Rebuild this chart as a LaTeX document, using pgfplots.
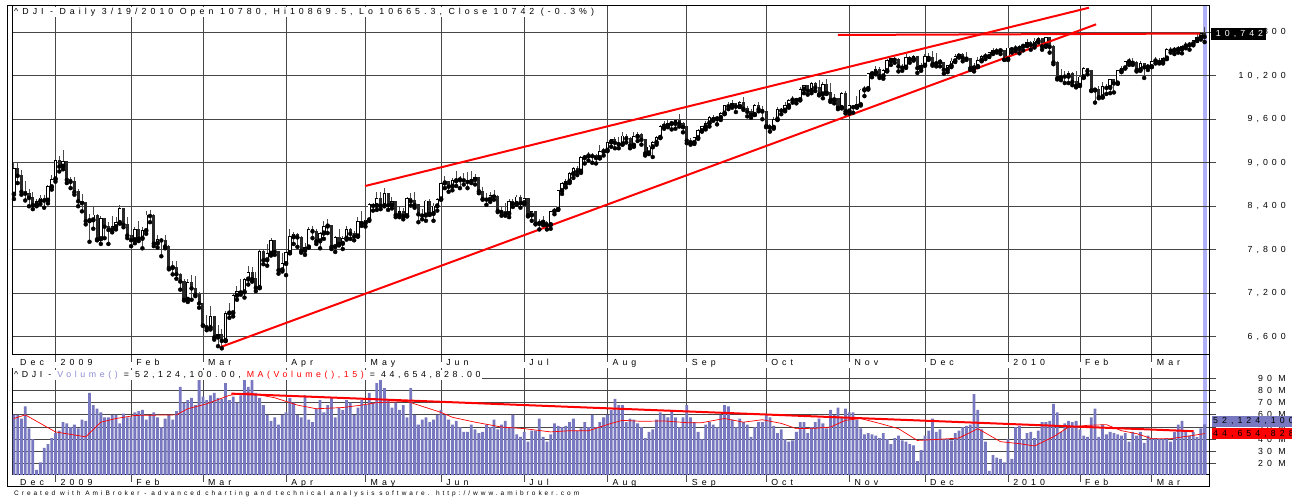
\documentclass[border=0pt]{standalone}
\usepackage{fontspec}
\setmainfont{Liberation Sans}
\newfontfamily\ami[LetterSpace=46]{Liberation Sans}
\newfontfamily\amib[LetterSpace=41]{Liberation Sans}
\usepackage{pgfplots}
\usepackage{pgfplotstable}
\pgfplotsset{compat=1.18}
\definecolor{volbar}{RGB}{120,120,192}
\definecolor{voltxt}{RGB}{140,140,210}
\definecolor{band}{RGB}{176,176,248}
\definecolor{downc}{RGB}{40,40,40}
\definecolor{wick}{RGB}{75,75,75}
\newcommand\lab{\ami\fontsize{8.8}{9}\selectfont}
\newcommand\labb{\amib\fontsize{8.8}{9}\selectfont}
\newcommand\foot{\ami\fontsize{6.5}{7}\selectfont}

\pgfplotstableread{
i o h l c v
-11 8565 9000 8500 8924 60
-10 8924 8990 8720 8824 60
-9 8824 8900 8560 8604 57
-8 8604 8750 8480 8579 67
-7 8579 8640 8400 8519 49
-6 8519 8600 8360 8420 40
-5 8420 8500 8400 8468 15
-4 8468 8560 8430 8515 21
-3 8515 8560 8380 8483 33
-2 8483 8700 8440 8668 36
-1 8668 8830 8630 8776 41
0 8776 9070 8740 9034 45
1 9034 9100 8880 8952 47
2 8952 9180 8910 9015 54
3 9015 9030 8720 8769 53
4 8769 8810 8650 8742 50
5 8742 8800 8560 8600 52
6 8600 8640 8400 8474 49
7 8474 8570 8330 8448 56
8 8448 8460 8150 8200 55
9 8200 8300 7910 8212 78
10 8212 8400 8090 8281 68
11 8281 8290 7930 7950 65
12 7950 8260 7880 8229 62
13 8229 8230 7960 8123 58
14 8123 8180 7880 8077 58
15 8077 8260 8040 8116 60
16 8116 8250 8080 8175 60
17 8175 8420 8160 8375 53
18 8375 8380 8110 8149 61
19 8149 8250 7960 8001 58
20 8001 8040 7850 7936 58
21 7936 8120 7890 8078 62
22 8078 8200 7920 7957 63
23 7957 8120 7820 8063 64
24 8063 8330 8020 8280 56
25 8280 8350 8180 8270 60
26 8270 8300 7850 7889 62
27 7889 8010 7830 7939 58
28 7939 7960 7710 7933 50
29 7933 8000 7820 7850 57
30 7850 7860 7530 7553 60
31 7553 7640 7460 7556 56
32 7556 7640 7400 7466 63
33 7466 7480 7250 7366 83
34 7366 7400 7100 7115 70
35 7115 7400 7080 7351 72
36 7351 7450 7110 7271 74
37 7271 7440 7160 7183 68
38 7183 7220 7000 7063 90
39 7063 7070 6750 6763 75
40 6763 6900 6690 6726 72
41 6726 7020 6700 6876 76
42 6876 6890 6560 6595 78
43 6595 6760 6470 6627 74
44 6627 6710 6440 6547 73
45 6547 6950 6540 6926 86
46 6926 7060 6860 6930 72
47 6930 7200 6880 7170 75
48 7170 7300 7110 7224 70
49 7224 7400 7180 7217 76
50 7217 7410 7140 7395 89
51 7395 7580 7320 7487 83
52 7487 7560 7360 7401 89
53 7401 7490 7230 7279 78
54 7279 7790 7270 7776 74
55 7776 7800 7600 7660 68
56 7660 7880 7580 7750 60
57 7750 7960 7720 7925 55
58 7925 7940 7730 7776 58
59 7776 7780 7470 7522 52
60 7522 7750 7500 7609 60
61 7609 7790 7450 7762 62
62 7762 8080 7750 7978 74
63 7978 8040 7880 8018 70
64 8018 8030 7840 7975 60
65 7975 7990 7760 7789 58
66 7789 7900 7730 7837 76
67 7837 8120 7830 8083 56
68 8083 8130 7960 8058 54
69 8058 8080 7880 7921 65
70 7921 8050 7820 8029 72
71 8029 8200 7950 8126 62
72 8126 8220 8030 8131 68
73 8131 8140 7810 7842 74
74 7842 7990 7770 7969 58
75 7969 8080 7860 7887 66
76 7887 7990 7810 7957 64
77 7957 8130 7940 8076 72
78 8076 8100 7950 8025 70
79 8025 8060 7930 7989 60
80 7989 8250 7980 8185 66
81 8185 8340 8130 8168 72
82 8168 8260 8120 8212 68
83 8212 8440 8200 8426 78
84 8426 8450 8340 8410 70
85 8410 8590 8350 8512 86
86 8512 8600 8360 8409 90
87 8409 8650 8400 8575 82
88 8575 8580 8350 8418 72
89 8418 8530 8370 8469 66
90 8469 8470 8250 8284 70
91 8284 8400 8250 8331 64
92 8331 8380 8220 8268 68
93 8268 8530 8260 8504 58
94 8504 8580 8410 8475 82
95 8475 8600 8380 8422 60
96 8422 8430 8180 8293 52
97 8293 8360 8220 8277 56
98 8277 8490 8200 8473 58
99 8473 8500 8280 8300 54
100 8300 8440 8200 8404 56
101 8404 8520 8340 8500 60
102 8500 8760 8490 8721 64
103 8721 8820 8650 8740 60
104 8740 8750 8600 8675 56
105 8675 8790 8620 8751 52
106 8751 8880 8680 8764 55
107 8764 8820 8650 8764 50
108 8764 8860 8700 8763 46
109 8763 8870 8650 8740 46
110 8740 8880 8720 8770 52
111 8770 8840 8700 8799 48
112 8799 8800 8580 8612 45
113 8612 8660 8490 8504 46
114 8504 8580 8420 8497 52
115 8497 8600 8460 8555 50
116 8555 8620 8490 8539 56
117 8539 8550 8320 8340 48
118 8340 8400 8270 8323 52
119 8323 8450 8270 8299 55
120 8299 8500 8250 8472 50
121 8472 8500 8390 8438 60
122 8438 8560 8420 8529 44
123 8529 8560 8380 8447 42
124 8447 8570 8430 8504 46
125 8504 8510 8260 8280 38
126 8280 8330 8200 8324 47
127 8324 8340 8150 8163 47
128 8163 8220 8080 8179 57
129 8179 8270 8140 8184 42
130 8184 8200 8080 8146 38
131 8146 8340 8090 8332 44
132 8332 8380 8290 8359 53
133 8359 8630 8350 8616 51
134 8616 8730 8570 8711 50
135 8711 8780 8660 8743 51
136 8743 8870 8720 8848 54
137 8848 8940 8790 8916 57
138 8916 8950 8830 8882 47
139 8882 9090 8860 9069 49
140 9069 9110 8990 9093 54
141 9093 9150 9030 9108 50
142 9108 9130 9000 9096 60
143 9096 9120 8990 9070 50
144 9070 9240 9060 9154 54
145 9154 9210 9100 9172 58
146 9172 9300 9160 9286 60
147 9286 9330 9220 9320 64
148 9320 9350 9200 9280 73
149 9280 9360 9200 9257 68
150 9257 9430 9250 9370 68
151 9370 9400 9280 9337 54
152 9337 9350 9200 9241 57
153 9241 9420 9220 9362 56
154 9362 9420 9300 9398 53
155 9398 9410 9250 9321 50
156 9321 9330 9100 9135 41
157 9135 9240 9120 9218 46
158 9218 9300 9080 9279 48
159 9279 9370 9250 9350 56
160 9350 9520 9340 9506 62
161 9506 9580 9470 9510 60
162 9510 9600 9490 9540 58
163 9540 9570 9460 9543 64
164 9543 9600 9470 9581 58
165 9581 9670 9500 9545 50
166 9545 9560 9420 9496 58
167 9496 9550 9270 9310 68
168 9310 9340 9250 9280 58
169 9280 9360 9260 9344 54
170 9344 9460 9330 9441 46
171 9441 9510 9430 9497 40
172 9497 9580 9460 9547 52
173 9547 9640 9500 9627 54
174 9627 9660 9580 9605 52
175 9605 9640 9530 9626 50
176 9626 9700 9590 9683 60
177 9683 9800 9670 9792 68
178 9792 9840 9740 9784 67
179 9784 9870 9760 9820 56
180 9820 9830 9700 9779 50
181 9779 9850 9770 9830 57
182 9830 9910 9730 9749 54
183 9749 9790 9640 9707 52
184 9707 9740 9620 9666 42
185 9666 9810 9660 9790 50
186 9790 9840 9710 9742 54
187 9742 9790 9600 9712 54
188 9712 9720 9490 9510 60
189 9510 9540 9430 9488 58
190 9488 9630 9470 9600 51
191 9600 9770 9590 9732 45
192 9732 9760 9670 9725 48
193 9725 9840 9710 9786 40
194 9786 9880 9760 9865 38
195 9865 9920 9830 9886 39
196 9886 9900 9820 9871 46
197 9871 10040 9860 10016 54
198 10016 10070 9960 10063 54
199 10063 10070 9940 9996 45
200 9996 10110 9960 10093 50
201 10093 10110 9990 10041 54
202 10041 10140 9930 9949 57
203 9949 10110 9890 10081 53
204 10081 10160 9950 9972 49
205 9972 10100 9840 9868 64
206 9868 9950 9820 9882 60
207 9882 9890 9740 9762 66
208 9762 9980 9750 9962 58
209 9962 9990 9680 9713 65
210 9713 9870 9680 9789 62
211 9789 9800 9690 9771 62
212 9771 9920 9760 9802 56
213 9802 10020 9790 10005 49
214 10005 10060 9920 10023 44
215 10023 10240 10010 10227 45
216 10227 10270 10180 10247 44
217 10247 10340 10220 10291 43
218 10291 10320 10170 10197 41
219 10197 10300 10160 10270 45
220 10270 10430 10260 10406 40
221 10406 10450 10350 10437 36
222 10437 10460 10380 10426 41
223 10426 10440 10260 10333 43
224 10333 10360 10270 10318 39
225 10318 10500 10310 10451 38
226 10451 10470 10380 10433 36
227 10433 10490 10410 10464 35
228 10464 10470 10240 10310 22
229 10310 10370 10270 10345 31
230 10345 10500 10340 10471 43
231 10471 10520 10420 10452 47
232 10452 10540 10340 10366 57
233 10366 10520 10330 10388 46
234 10388 10430 10330 10390 48
235 10390 10390 10230 10286 40
236 10286 10350 10250 10337 40
237 10337 10440 10320 10405 39
238 10405 10500 10390 10471 45
239 10471 10520 10450 10501 47
240 10501 10520 10400 10452 50
241 10452 10530 10420 10441 51
242 10441 10450 10280 10309 52
243 10309 10380 10260 10328 77
244 10328 10460 10320 10414 64
245 10414 10490 10400 10464 48
246 10464 10510 10430 10467 38
247 10467 10530 10460 10520 14
248 10520 10580 10500 10547 27
249 10547 10590 10520 10545 25
250 10545 10570 10500 10548 24
251 10548 10560 10420 10428 21
252 10428 10610 10420 10584 40
253 10584 10600 10520 10572 24
254 10572 10620 10540 10574 50
255 10574 10620 10510 10607 51
256 10607 10640 10550 10619 40
257 10619 10710 10610 10663 45
258 10663 10680 10560 10627 46
259 10627 10720 10590 10681 41
260 10681 10730 10660 10711 47
261 10711 10720 10560 10610 54
262 10610 10740 10600 10726 54
263 10726 10730 10520 10604 55
264 10604 10620 10360 10390 69
265 10390 10400 10150 10173 62
266 10173 10290 10140 10196 46
267 10196 10260 10100 10194 53
268 10194 10270 10100 10236 55
269 10236 10250 10070 10120 54
270 10120 10270 10040 10067 55
271 10067 10200 10060 10185 48
272 10185 10320 10170 10297 43
273 10297 10310 10220 10270 42
274 10270 10280 9990 10002 58
275 10002 10030 9830 10013 65
276 10013 10060 9890 9908 42
277 9908 10110 9900 10058 52
278 10058 10090 9950 10038 44
279 10038 10160 9960 10144 46
280 10144 10150 9970 10099 45
281 10099 10280 10090 10268 44
282 10268 10330 10250 10309 43
283 10309 10410 10300 10393 45
284 10393 10440 10350 10403 38
285 10403 10440 10350 10384 46
286 10384 10400 10260 10283 43
287 10283 10400 10270 10375 46
288 10375 10380 10170 10321 37
289 10321 10360 10280 10325 43
290 10325 10420 10320 10404 41
291 10404 10460 10370 10405 41
292 10405 10450 10370 10396 40
293 10396 10460 10370 10444 40
294 10444 10580 10430 10567 41
295 10567 10600 10520 10553 38
296 10553 10600 10500 10564 46
297 10564 10610 10520 10568 52
298 10568 10630 10510 10611 55
299 10611 10660 10580 10625 46
300 10625 10660 10560 10642 43
301 10642 10700 10620 10686 46
302 10686 10770 10680 10733 42
303 10733 10790 10700 10779 49
304 10780 10869.5 10665.3 10742 52.1241
}\price

\pgfplotstableread{
i m
-11 57
-8 60
0 46
8 42
12 54
16 57
21 59.5
32 60
35 65
40 69
46 76
51 78
58 74
64 68
69 65
76 66
81 68
85 70
93 71
102 62
105 58
111 54
118 50
124 48.7
131 46
136 47
141 47
147 53
150 55.5
155 54.7
161 55
167 53.6
171 53.6
177 57
182 54
187 56
192 53
196 48.7
201 49
205 50
209 55.5
213 57
218 53
223 48.7
228 39
234 40
239 41
244 48.7
250 38
255 36.4
259 34.5
264 42
268 50
273 51.4
278 52
282 47
286 44.6
290 40.5
295 40.5
300 42.7
304 44.65
}\ma

\pgfplotsset{ami/.style={
  scale only axis, width=1196.3pt,
  xmin=-11.32, xmax=305.16,
  axis line style={black, line width=1pt},
  xtick={0,20,39,61,82,102,124,146,167,188,210,230,252,271,290},
  xticklabels={2009,Feb,Mar,Apr,May,Jun,Jul,Aug,Sep,Oct,Nov,Dec,2010,Feb,Mar},
  extra x ticks={-10.7}, extra x tick labels={Dec},
  extra x tick style={grid=none, tick style={draw=none}},
  grid=major, major grid style={black!72, line width=0.8pt},
  tick align=outside, major tick length=7pt,
  tick style={black!72, line width=0.8pt},
  xtick pos=bottom, ytick pos=right, xticklabel pos=bottom, yticklabel pos=right,
  xticklabel style={font=\lab, anchor=base west, inner sep=0pt, xshift=5pt, yshift=-4pt},
  yticklabel style={font=\lab, anchor=east, inner sep=0pt, xshift=70pt},
  clip=true,
}}

\begin{document}
\begin{tikzpicture}
\useasboundingbox (0pt,0pt) rectangle (1292pt,500pt);
\clip (0pt,0pt) rectangle (1292pt,500pt);
\fill[white] (0pt,0pt) rectangle (1292pt,500pt);
% selection band of the last bar
\fill[band] (1203.3pt,25pt) rectangle (1207.3pt,494pt);
% price panel
\begin{axis}[ami, at={(12.7pt,145pt)}, anchor=south west, height=349pt,
  ymin=6348, ymax=11163,
  ytick={6600,7200,7800,8400,9000,9600,10200,10800},
  yticklabels={{6,600},{7,200},{7,800},{8,400},{9,000},{9,600},{10,200},{10,800}}]
% wicks
\addplot[forget plot, only marks, mark=none,
  error bars/.cd, y dir=plus, y explicit, error mark=none,
  error bar style={draw=wick, line width=0.9pt, line cap=butt}]
  table[x=i, y=l, y error plus expr={\thisrow{h}-\thisrow{l}}] {\price};
% falling bodies
\addplot[forget plot, only marks, mark=none,
  restrict expr to domain={\thisrow{c}-\thisrow{o}}{-100000:-0.001},
  error bars/.cd, y dir=plus, y explicit, error mark=none,
  error bar style={draw=downc, line width=3.1pt, line cap=butt}]
  table[x=i, y expr={\thisrow{c}-5}, y error plus expr={\thisrow{o}-\thisrow{c}+10}] {\price};
% rising bodies: outline
\addplot[forget plot, only marks, mark=none,
  restrict expr to domain={\thisrow{c}-\thisrow{o}}{0:100000},
  error bars/.cd, y dir=plus, y explicit, error mark=none,
  error bar style={draw=black, line width=3.3pt, line cap=butt}]
  table[x=i, y expr={\thisrow{o}-5}, y error plus expr={\thisrow{c}-\thisrow{o}+10}] {\price};
% rising bodies: white inside
\addplot[forget plot, only marks, mark=none,
  restrict expr to domain={\thisrow{c}-\thisrow{o}}{0:100000},
  error bars/.cd, y dir=plus, y explicit, error mark=none,
  error bar style={draw=white, line width=1.7pt, line cap=butt}]
  table[x=i, y expr={\thisrow{o}+7}, y error plus expr={max(\thisrow{c}-\thisrow{o}-14,0)}] {\price};
% trend lines
\addplot[red, line width=2pt] coordinates {(43.5,6454) (275.3,10910)};
\addplot[red, line width=2pt] coordinates {(81.9,8679) (273.4,11139)};
\addplot[red, line width=2pt] coordinates {(207,10763) (302.8,10783)};
\end{axis}
% volume panel
\begin{axis}[ami, at={(12.7pt,25pt)}, anchor=south west, height=107pt,
  axis x line*=bottom, axis y line*=box,
  xtick pos=bottom, ytick pos=right, xticklabel pos=bottom, yticklabel pos=right,
  xticklabel style={yshift=0.5pt},
  ymin=10.7, ymax=98.4,
  ytick={20,30,40,50,60,70,80,90},
  yticklabels={20 M,30 M,40 M,50 M,60 M,70 M,80 M,90 M}]
\addplot[ybar, bar width=2.8pt, fill=volbar, draw=none] table[x=i, y=v] {\price};
\addplot[red, line width=0.7pt] table[x=i, y=m] {\ma};
\addplot[red, line width=2pt] coordinates {(46.5,77.4) (301.1,46.6)};
\end{axis}
% titles and value boxes
\node[anchor=west, fill=white, inner sep=1pt, font=\lab] at (13pt,488pt)
  {\textasciicircum DJI - Daily 3/19/2010 Open 10780, Hi10869.5, Lo 10665.3, Close 10742 (-0.3\%)};
\node[anchor=west, fill=white, inner sep=1pt, font=\labb] at (13pt,125pt)
  {\textasciicircum DJI - \textcolor{voltxt}{Volume()} = 52,124,100.00, \textcolor{red}{MA(Volume(),15)} = 44,654,828.00};
\node[anchor=west, fill=black, text=white, inner sep=0pt, minimum height=12.3pt, minimum width=54.7pt, font=\lab] at (1211pt,466.2pt) {\hspace*{2pt}10,742};
\node[anchor=west, fill=volbar, text=black, inner sep=0pt, minimum height=10.7pt, minimum width=82pt, font=\lab] at (1211.7pt,78.7pt) {\hspace*{1pt}52,124,100};
\node[anchor=west, fill=red, text=black, inner sep=0pt, minimum height=11pt, minimum width=82pt, font=\lab] at (1211.7pt,66.2pt) {\hspace*{1pt}44,654,828};
\node[anchor=west, inner sep=0pt, font=\foot] at (14pt,6.5pt) {Created with AmiBroker - advanced charting and technical analysis software. http://www.amibroker.com};
% outer frame
\draw[black, line width=1pt] (7.3pt,13.3pt) rectangle (1209pt,494.5pt);
\end{tikzpicture}
\end{document}
